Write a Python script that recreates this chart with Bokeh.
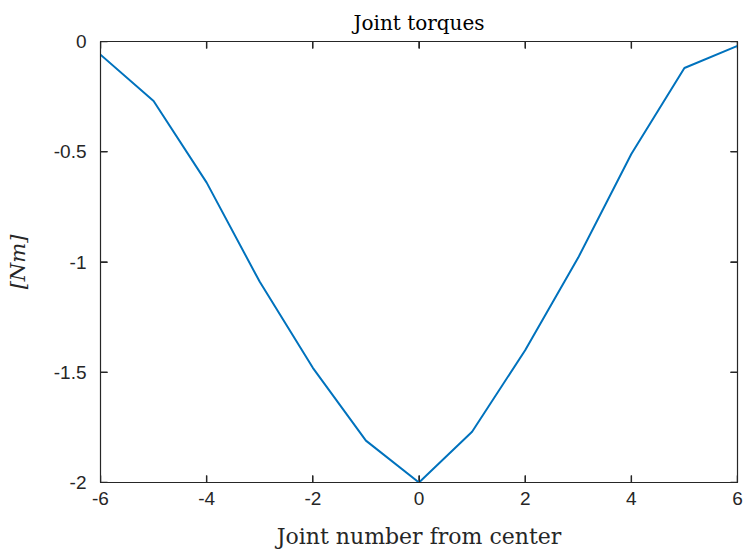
from bokeh.plotting import figure
from bokeh.models import Range1d, LinearAxis, FixedTicker
from bokeh.embed import file_html
from bokeh.resources import INLINE

joints = [-6, -5, -4, -3, -2, -1, 0, 1, 2, 3, 4, 5, 6]
torques = [-0.06, -0.27, -0.64, -1.09, -1.48, -1.81, -2.0, -1.77, -1.40, -0.98, -0.51, -0.12, -0.02]
x_ticks = [-6, -4, -2, 0, 2, 4, 6]
x_tick_labels = ["-6", "-4", "-2", "0", "2", "4", "6"]
y_ticks = [-2, -1.5, -1, -0.5, 0]
y_tick_labels = ["-2", "-1.5", "-1", "-0.5", "0"]
x_lim = (-6, 6)
y_lim = (-2, 0)

AX = "#262626"
SERIF = "DejaVu Serif"
SANS = "Liberation Sans"

p = figure(width=744, height=553, output_backend="svg", toolbar_location=None,
           x_range=Range1d(*x_lim), y_range=Range1d(*y_lim),
           min_border_left=100, min_border_right=7, min_border_top=41, min_border_bottom=71,
           title="Joint torques")
p.background_fill_color = "white"
p.border_fill_color = "white"
p.outline_line_color = AX
p.outline_line_width = 1.2
p.grid.visible = False

p.title.text_font = SERIF
p.title.text_font_size = "20px"
p.title.text_font_style = "normal"
p.title.text_color = "black"
p.title.align = "center"
p.title.standoff = 14
p.title.offset = 0

# inward tick marks on all four sides (length ~7 px of a 637 x 441 px frame)
dx = 7 * (x_lim[1] - x_lim[0]) / 637
dy = 7 * (y_lim[1] - y_lim[0]) / 441
nx, ny = len(x_ticks), len(y_ticks)
tick_kw = dict(line_color=AX, line_width=1.5)
p.segment(x0=x_ticks, y0=[y_lim[0]] * nx, x1=x_ticks, y1=[y_lim[0] + dy] * nx, **tick_kw)
p.segment(x0=x_ticks, y0=[y_lim[1]] * nx, x1=x_ticks, y1=[y_lim[1] - dy] * nx, **tick_kw)
p.segment(x0=[x_lim[0]] * ny, y0=y_ticks, x1=[x_lim[0] + dx] * ny, y1=y_ticks, **tick_kw)
p.segment(x0=[x_lim[1]] * ny, y0=y_ticks, x1=[x_lim[1] - dx] * ny, y1=y_ticks, **tick_kw)

p.line(joints, torques, line_color="#0072BD", line_width=2)

def style(ax):
    ax.axis_line_color = AX
    ax.major_tick_line_color = AX
    ax.major_tick_in = 7
    ax.major_tick_out = 0
    ax.minor_tick_line_color = None
    ax.major_label_text_font = SANS
    ax.major_label_text_font_size = "19px"
    ax.major_label_text_color = AX

xa = p.xaxis[0]
xa.ticker = FixedTicker(ticks=x_ticks)
xa.major_label_overrides = {float(k): v for k, v in zip(x_ticks, x_tick_labels)}
style(xa)
xa.major_label_standoff = 9
xa.axis_label = "Joint number from center"
xa.axis_label_text_font = SERIF
xa.axis_label_text_font_style = "normal"
xa.axis_label_text_font_size = "22px"
xa.axis_label_text_color = AX
xa.axis_label_standoff = 16

ya = p.yaxis[0]
ya.ticker = FixedTicker(ticks=y_ticks)
ya.major_label_overrides = {float(k): v for k, v in zip(y_ticks, y_tick_labels)}
style(ya)
ya.major_label_standoff = 14
ya.axis_label = "[Nm]"
ya.axis_label_text_font = SERIF
ya.axis_label_text_font_style = "italic"
ya.axis_label_text_font_size = "21px"
ya.axis_label_text_color = AX
ya.axis_label_standoff = 21

top = LinearAxis(ticker=FixedTicker(ticks=x_ticks))
style(top)
top.major_label_overrides = {float(k): "" for k in x_ticks}
top.major_label_standoff = 0
p.add_layout(top, "above")
right = LinearAxis(ticker=FixedTicker(ticks=y_ticks))
style(right)
right.major_label_overrides = {float(k): "" for k in y_ticks}
right.major_label_standoff = 0
p.add_layout(right, "right")

open("out.html", "w").write(file_html(p, INLINE))
